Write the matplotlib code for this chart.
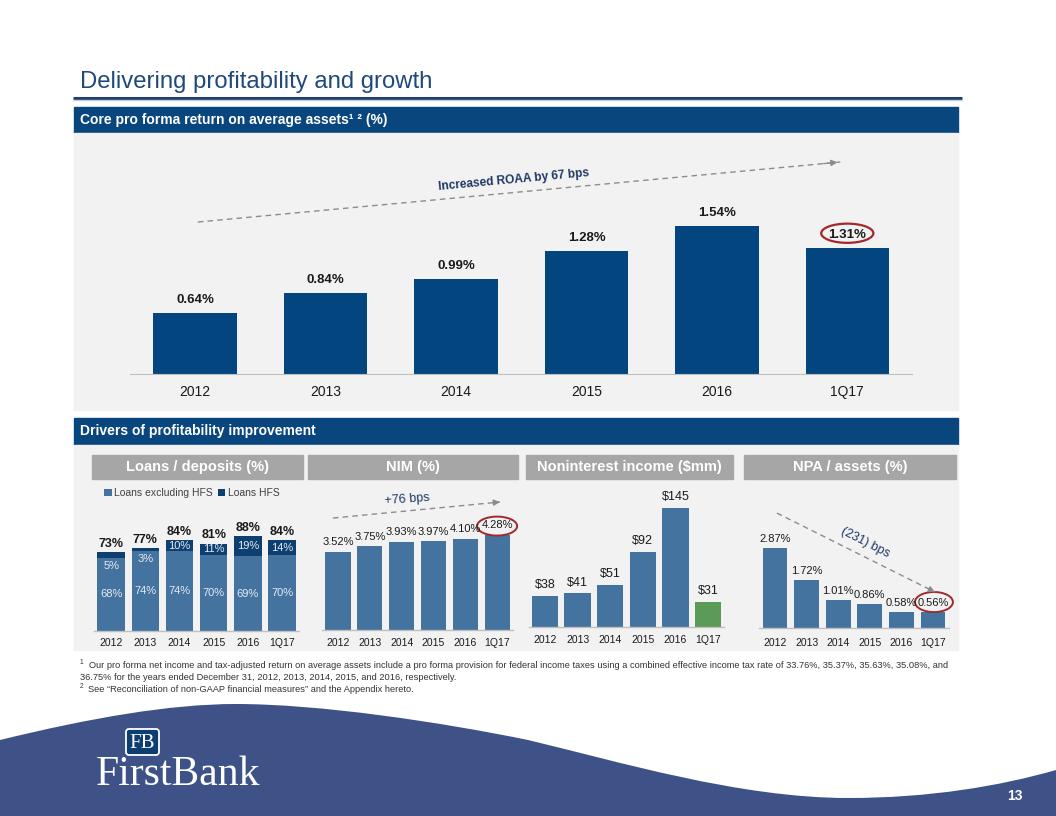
import matplotlib
matplotlib.use("Agg")
import matplotlib.pyplot as plt
from matplotlib.patches import Rectangle, Ellipse, FancyBboxPatch, PathPatch
from matplotlib.path import Path

plt.rcParams['font.family'] = ['Liberation Sans', 'DejaVu Sans']

W, H = 1056, 816

# ---- data ----
years = ["2012", "2013", "2014", "2015", "2016", "1Q17"]
roaa = [0.64, 0.84, 0.99, 1.28, 1.54, 1.31]
loans_ex_hfs = [68, 74, 74, 70, 69, 70]
loans_hfs = [5, 3, 10, 11, 19, 14]
loans_total = [73, 77, 84, 81, 88, 84]
nim = [3.52, 3.75, 3.93, 3.97, 4.10, 4.28]
nonint = [38, 41, 51, 92, 145, 31]
npa = [2.87, 1.72, 1.01, 0.86, 0.58, 0.56]

footnotes = [
    "Our pro forma net income and tax-adjusted return on average assets include a pro forma provision for federal income taxes using a combined effective income tax rate of 33.76%, 35.37%, 35.63%, 35.08%, and",
    "36.75% for the years ended December 31, 2012, 2013, 2014, 2015, and 2016, respectively.",
    "See \u201cReconciliation of non-GAAP financial measures\u201d and the Appendix hereto.",
]

# ---- colours ----
HEADER = "#0A467E"
TITLE = "#1F497D"
ROAA_BAR = "#03457F"
MID_BAR = "#44739F"
HFS_BAR = "#0D3F70"
GREEN = "#5B9A57"
PANEL = "#F2F2F2"
SUBHEAD = "#A6A6A6"
WAVE = "#3E5287"
TXT = "#1A1A1A"
ARROW = "#8C8C8C"
RING = "#A3282C"
AXLINE = "#BFBFBF"
NOTE = "#1F3864"

fig = plt.figure(figsize=(W / 100, H / 100), dpi=100)
fig.patch.set_facecolor("white")

# background canvas in pixel units
bg = fig.add_axes([0, 0, 1, 1])
bg.set_xlim(0, W)
bg.set_ylim(H, 0)
bg.axis("off")


def px_axes(l, t, r, b):
	ax = fig.add_axes([l / W, 1 - b / H, (r - l) / W, (b - t) / H])
	ax.patch.set_alpha(0)
	return ax


# title + rule
bg.text(80, 88, "Delivering profitability and growth", fontsize=17.2, color=TITLE, va="baseline")
bg.plot([73, 962], [97.7, 97.7], color="#1F3F6E", lw=2.2, solid_capstyle="butt")
bg.plot([73, 962], [100.2, 100.2], color="#C8CCD4", lw=1.0, solid_capstyle="butt")

# section bars and panels
bg.add_patch(Rectangle((74, 107), 884, 26, color=HEADER))
bg.text(80, 120, "Core pro forma return on average assets\u00b9 \u00b2 (%)", fontsize=10, fontweight="bold",
        color="white", va="center")
bg.add_patch(Rectangle((74, 133), 884, 277, color=PANEL))

bg.add_patch(Rectangle((74, 418), 884, 27, color=HEADER))
bg.text(80, 431.5, "Drivers of profitability improvement", fontsize=10, fontweight="bold",
        color="white", va="center")
bg.add_patch(Rectangle((74, 445), 884, 205, color=PANEL))

subheads = [("Loans / deposits (%)", 92, 303), ("NIM (%)", 308, 518),
            ("Noninterest income ($mm)", 526, 733), ("NPA / assets (%)", 744, 956)]
for label, x0, x1 in subheads:
	bg.add_patch(Rectangle((x0, 455), x1 - x0, 24, color=SUBHEAD))
	bg.text((x0 + x1) / 2, 467.5, label, fontsize=10.5, fontweight="bold", color="white",
	        ha="center", va="center")

# footnotes
bg.text(80, 664, "1", fontsize=4.8, color="#333333", va="baseline")
bg.text(89, 668, footnotes[0], fontsize=6.7, color="#333333", va="baseline")
bg.text(80, 680, footnotes[1], fontsize=6.7, color="#333333", va="baseline")
bg.text(80, 688, "2", fontsize=4.8, color="#333333", va="baseline")
bg.text(88, 692, footnotes[2], fontsize=6.7, color="#333333", va="baseline")

# bottom wave
verts = [(0, 740),
         (90, 718), (170, 704), (236, 704),
         (320, 704), (440, 722), (528, 740),
         (620, 762), (740, 798), (848, 798),
         (930, 798), (1000, 786), (1056, 770),
         (1056, 816), (0, 816), (0, 740)]
codes = [Path.MOVETO] + [Path.CURVE4] * 12 + [Path.LINETO] * 3
bg.add_patch(PathPatch(Path(verts, codes), facecolor=WAVE, edgecolor="none"))

# logo
bg.add_patch(FancyBboxPatch((126, 729), 33, 26, boxstyle="round,pad=0,rounding_size=3",
                            facecolor="#0C3E72", edgecolor="white", lw=1.3))
bg.text(142.5, 743, "FB", fontsize=15, color="white", family="Liberation Serif",
        ha="center", va="center")
bg.text(96, 785, "FirstBank", fontsize=30, color="white", family="Liberation Serif",
        va="baseline")
bg.text(1015, 796, "13", fontsize=10, fontweight="bold", color="white", ha="center", va="center")

x = list(range(len(years)))


def style_small(ax, ytop, pad):
	ax.set_xlim(-0.5, 5.5)
	ax.set_ylim(0, ytop)
	for s in ["top", "right", "left"]:
		ax.spines[s].set_visible(False)
	ax.spines["bottom"].set_color(AXLINE)
	ax.spines["bottom"].set_linewidth(1)
	ax.set_yticks([])
	ax.set_xticks(x)
	ax.set_xticklabels(years, fontsize=7.5, color=TXT)
	ax.tick_params(axis="x", length=0, pad=pad)


def dashed_arrow(ax, x0, y0, x1, y1):
	ax.plot([x0, x1], [y0, y1], ls=(0, (4, 3)), color=ARROW, lw=1, clip_on=False)
	ax.annotate("", xy=(x1, y1), xytext=(x0 + (x1 - x0) * 0.97, y0 + (y1 - y0) * 0.97),
	            arrowprops=dict(arrowstyle="-|>", color=ARROW, lw=1, mutation_scale=9),
	            annotation_clip=False)


# ---- ROAA ----
ax = px_axes(130, 140, 912.5, 374)
ax.bar(x, roaa, width=0.64, color=ROAA_BAR)
ax.set_xlim(-0.5, 5.5)
ax.set_ylim(0, (374 - 140) / 96)
for s in ["top", "right", "left"]:
	ax.spines[s].set_visible(False)
ax.spines["bottom"].set_color(AXLINE)
ax.set_yticks([])
ax.set_xticks(x)
ax.set_xticklabels(years, fontsize=10, color=TXT)
ax.tick_params(axis="x", length=0, pad=8)
for i, v in enumerate(roaa):
	ax.annotate("%.2f%%" % v, (i, v), xytext=(0, 5), textcoords="offset points",
	            ha="center", va="bottom", fontsize=9.5, fontweight="bold", color=TXT)
dashed_arrow(ax, 0.02, 1.583, 4.946, 2.208)
ax.text(2.44, 2.02, "Increased ROAA by 67 bps", fontsize=8.6, fontweight="bold", color=NOTE,
        rotation=5.3, ha="center", va="center", rotation_mode="anchor")
ax.add_patch(Ellipse((5.0, roaa[5] + 15 / 96), 0.40, 0.2, fill=False, edgecolor=RING, lw=1.6))

# ---- Loans / deposits ----
ax = px_axes(94, 485, 299.2, 631)
style_small(ax, (631 - 485) / 1.08, 5)
ax.bar(x, loans_ex_hfs, width=0.8, color=MID_BAR, label="Loans excluding HFS")
ax.bar(x, loans_hfs, width=0.8, bottom=loans_ex_hfs, color=HFS_BAR, label="Loans HFS")
for i in x:
	ax.text(i, loans_ex_hfs[i] / 2, "%d%%" % loans_ex_hfs[i], ha="center", va="center",
	        fontsize=8, color="#E6ECF3")
	if loans_hfs[i] < 6:
		yl = loans_ex_hfs[i] - 7.5
	else:
		yl = loans_ex_hfs[i] + loans_hfs[i] / 2
	ax.text(i, yl, "%d%%" % loans_hfs[i], ha="center", va="center", fontsize=8, color="#E6ECF3")
	ax.annotate("%d%%" % loans_total[i], (i, loans_total[i]), xytext=(0, 1.5),
	            textcoords="offset points", ha="center", va="bottom", fontsize=9,
	            fontweight="bold", color=TXT)
ax.legend(loc="center left", bbox_to_anchor=(99 / W, 1 - 493 / H), bbox_transform=fig.transFigure,
          ncol=2, frameon=False, fontsize=7.5, handlelength=0.7, handleheight=0.7,
          handletextpad=0.25, columnspacing=0.5, borderpad=0, labelcolor="#404040")

# ---- NIM ----
ax = px_axes(322.1, 485, 513, 630)
style_small(ax, (630 - 485) / 22.3, 6)
ax.bar(x, nim, width=0.79, color=MID_BAR)
for i, v in enumerate(nim):
	ax.annotate("%.2f%%" % v, (i, v), xytext=(0, 3.5), textcoords="offset points",
	            ha="center", va="bottom", fontsize=8, color=TXT)
dashed_arrow(ax, -0.16, 5.02, 5.09, 5.74)
ax.text(2.17, 5.87, "+76 bps", fontsize=9, color=NOTE, rotation=4,
        ha="center", va="center")
ax.add_patch(Ellipse((5.0, 4.66), 1.26, 0.85, fill=False, edgecolor=RING, lw=1.4, clip_on=False))

# ---- Noninterest income ----
ax = px_axes(528.7, 485, 724.3, 627)
style_small(ax, (627 - 485) / 0.82, 6)
ax.bar(x, nonint, width=0.81, color=[MID_BAR] * 5 + [GREEN])
for i, v in enumerate(nonint):
	ax.annotate("$%d" % v, (i, v), xytext=(0, 3.5), textcoords="offset points",
	            ha="center", va="bottom", fontsize=9, color=TXT)

# ---- NPA / assets ----
ax = px_axes(759.2, 485, 948.8, 628)
style_small(ax, (628 - 485) / 27.9, 7)
ax.bar(x, npa, width=0.78, color=MID_BAR)
for i, v in enumerate(npa):
	ax.annotate("%.2f%%" % v, (i, v), xytext=(0, 3), textcoords="offset points",
	            ha="center", va="bottom", fontsize=8, color=TXT)
dashed_arrow(ax, 0.06, 4.12, 5.06, 1.29)
ax.text(2.85, 3.05, "(231) bps", fontsize=9, color=NOTE, rotation=-27,
        ha="center", va="center")
ax.add_patch(Ellipse((5.03, 0.93), 1.2, 0.72, fill=False, edgecolor=RING, lw=1.4, clip_on=False))

fig.savefig("out.png", dpi=100)
